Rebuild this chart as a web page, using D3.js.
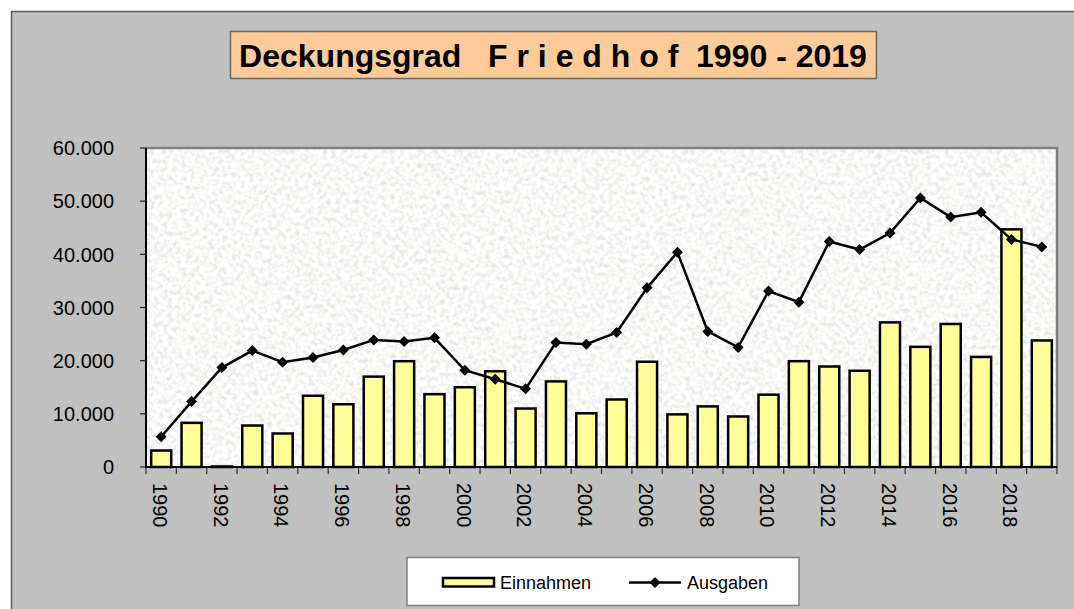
<!DOCTYPE html>
<html>
<head>
<meta charset="utf-8">
<script src="https://d3js.org/d3.v7.min.js"></script>
<style>
  body { margin: 0; background: #fff; }
  text { font-family: "Liberation Sans", Arial, sans-serif; }
</style>
</head>
<body>
<svg id="chart" width="1074" height="609"></svg>
<script>
var years = d3.range(1990, 2020);
var einnahmen = [3100, 8300, 100, 7800, 6300, 13400, 11800, 17000, 19900, 13700,
                 15000, 18000, 11000, 16100, 10100, 12700, 19800, 9900, 11400, 9500,
                 13600, 19900, 18900, 18100, 27200, 22600, 26900, 20700, 44700, 23800];
var ausgaben = [5700, 12300, 18700, 21900, 19700, 20600, 22000, 23900, 23600, 24300,
                18200, 16500, 14700, 23400, 23100, 25300, 33700, 40400, 25500, 22500,
                33100, 31000, 42400, 40900, 44000, 50600, 47000, 47900, 42800, 41400];
var yTicks = [0, 10000, 20000, 30000, 40000, 50000, 60000];
var titleText = 'Deckungsgrad   F r i e d h o f  1990 - 2019';

var svg = d3.select('#chart');
var pLeft = 146, pRight = 1057, pTop = 148, pBottom = 467;

var de = d3.formatLocale({decimal: ',', thousands: '.', grouping: [3], currency: ['', ' €']});
var fmt = de.format(',d');

var x = d3.scaleBand().domain(years).range([pLeft, pRight]);
var y = d3.scaleLinear().domain([0, 60000]).range([pBottom, pTop]);
var bw = x.bandwidth();

// granite background for the plot
var defs = svg.append('defs');
var filt = defs.append('filter').attr('id', 'granite')
    .attr('x', 0).attr('y', 0).attr('width', 1).attr('height', 1);
filt.append('feTurbulence')
    .attr('type', 'fractalNoise')
    .attr('baseFrequency', 0.22)
    .attr('numOctaves', 2)
    .attr('seed', 7);
filt.append('feColorMatrix')
    .attr('type', 'matrix')
    .attr('values', '0.5 0 0 0 0.69  0.5 0 0 0 0.69  0.5 0 0 0 0.675  0 0 0 0 1');

// outer chart area
svg.append('rect')
    .attr('x', 11.5).attr('y', 11.5)
    .attr('width', 1100).attr('height', 700)
    .attr('fill', '#c0c0c0')
    .attr('stroke', '#5a5a5a')
    .attr('stroke-width', 1.5);

// title box
svg.append('rect')
    .attr('x', 230.5).attr('y', 31.5)
    .attr('width', 646).attr('height', 47)
    .attr('fill', '#ffcc99')
    .attr('stroke', '#666')
    .attr('stroke-width', 1.5);

svg.append('text')
    .attr('x', 553).attr('y', 66.5)
    .attr('text-anchor', 'middle')
    .attr('xml:space', 'preserve')
    .style('white-space', 'pre')
    .style('font-size', '32px')
    .style('font-weight', 'bold')
    .text(titleText);

// plot area
svg.append('rect')
    .attr('x', pLeft).attr('y', pTop)
    .attr('width', pRight - pLeft).attr('height', pBottom - pTop)
    .attr('fill', '#eee')
    .attr('filter', 'url(#granite)');

svg.append('path')
    .attr('d', 'M' + pLeft + ',' + pTop + 'H' + pRight + 'V' + pBottom)
    .attr('fill', 'none')
    .attr('stroke', '#808080')
    .attr('stroke-width', 2.5);

// bars
svg.append('g').selectAll('rect')
    .data(einnahmen)
    .join('rect')
    .attr('x', function(d, i) { return x(years[i]) + bw * 0.17; })
    .attr('y', function(d) { return y(d); })
    .attr('width', bw * 0.66)
    .attr('height', function(d) { return pBottom - y(d); })
    .attr('fill', '#ffff99')
    .attr('stroke', '#000')
    .attr('stroke-width', 2.5);

// line
var line = d3.line()
    .x(function(d, i) { return x(years[i]) + bw / 2; })
    .y(function(d) { return y(d); });

svg.append('path')
    .datum(ausgaben)
    .attr('d', line)
    .attr('fill', 'none')
    .attr('stroke', '#000')
    .attr('stroke-width', 2.5);

var diamond = 'M0,-5.5L5.5,0L0,5.5L-5.5,0Z';
svg.append('g').selectAll('path')
    .data(ausgaben)
    .join('path')
    .attr('transform', function(d, i) { return 'translate(' + (x(years[i]) + bw / 2) + ',' + y(d) + ')'; })
    .attr('d', diamond)
    .attr('fill', '#000');

// y axis
var yAxis = svg.append('g');
yAxis.append('line')
    .attr('x1', pLeft).attr('x2', pLeft)
    .attr('y1', pTop).attr('y2', pBottom + 1)
    .attr('stroke', '#000').attr('stroke-width', 2);
yAxis.selectAll('line.tk')
    .data(yTicks)
    .join('line')
    .attr('x1', pLeft - 6).attr('x2', pLeft)
    .attr('y1', function(d) { return y(d); })
    .attr('y2', function(d) { return y(d); })
    .attr('stroke', '#222').attr('stroke-width', 1.2);
yAxis.selectAll('text')
    .data(yTicks)
    .join('text')
    .attr('x', 114)
    .attr('y', function(d) { return y(d); })
    .attr('dy', '0.36em')
    .attr('text-anchor', 'end')
    .style('font-size', '20px')
    .text(function(d) { return fmt(d); });

// x axis
var xAxis = svg.append('g');
var edges = years.map(function(d) { return x(d); }).concat([pRight]);
xAxis.selectAll('line.tk')
    .data(edges)
    .join('line')
    .attr('x1', function(d) { return d; }).attr('x2', function(d) { return d; })
    .attr('y1', pBottom).attr('y2', pBottom + 7)
    .attr('stroke', '#333').attr('stroke-width', 1.2);
xAxis.append('line')
    .attr('x1', pLeft - 1).attr('x2', pRight)
    .attr('y1', pBottom).attr('y2', pBottom)
    .attr('stroke', '#000').attr('stroke-width', 2);
xAxis.selectAll('text')
    .data(years.filter(function(d) { return d % 2 === 0; }))
    .join('text')
    .attr('transform', function(d) { return 'translate(' + (x(d) + bw / 2 - 1) + ',483) rotate(90)'; })
    .attr('dy', '0.36em')
    .style('font-size', '20px')
    .text(function(d) { return d; });

// legend
var lg = svg.append('g');
lg.append('rect')
    .attr('x', 407).attr('y', 557.5)
    .attr('width', 392).attr('height', 48)
    .attr('fill', '#fff')
    .attr('stroke', '#808080')
    .attr('stroke-width', 1.5);
lg.append('rect')
    .attr('x', 443).attr('y', 578)
    .attr('width', 51).attr('height', 8.5)
    .attr('fill', '#ffff99')
    .attr('stroke', '#000')
    .attr('stroke-width', 2.5);
lg.append('text')
    .attr('x', 500).attr('y', 589)
    .style('font-size', '18px')
    .text('Einnahmen');
lg.append('line')
    .attr('x1', 629).attr('x2', 681)
    .attr('y1', 582.5).attr('y2', 582.5)
    .attr('stroke', '#000').attr('stroke-width', 2.5);
lg.append('path')
    .attr('transform', 'translate(655,582.5)')
    .attr('d', diamond)
    .attr('fill', '#000');
lg.append('text')
    .attr('x', 687).attr('y', 589)
    .style('font-size', '18px')
    .text('Ausgaben');
</script>
</body>
</html>
